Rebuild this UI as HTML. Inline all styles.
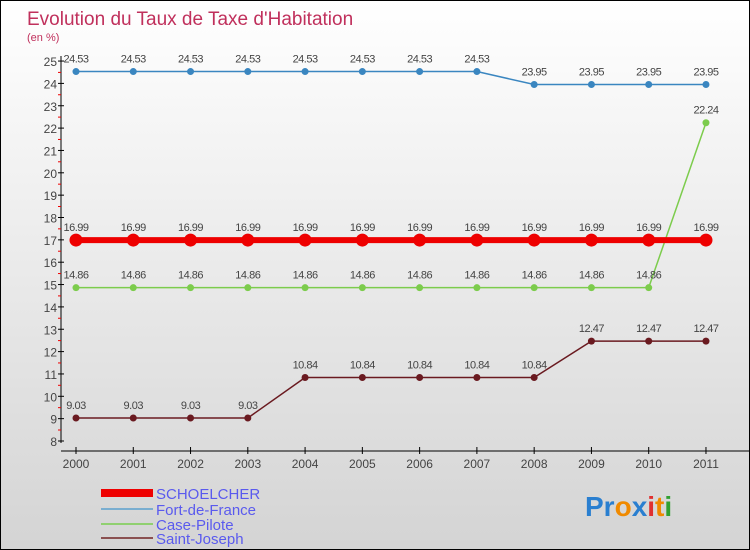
<!DOCTYPE html>
<html><head><meta charset="utf-8"><style>
body{margin:0}
#c{width:748px;height:548px;border:1px solid #000;background:linear-gradient(#fff,#d4d4d4);position:relative;overflow:hidden;font-family:"Liberation Sans",sans-serif}
svg text{font-family:"Liberation Sans",sans-serif}
</style></head><body>
<div id="c">
<svg id="s" width="748" height="548">
<text x="26" y="24" font-size="19" fill="#c0305c">Evolution du Taux de Taxe d'Habitation</text>
<text x="26" y="40" font-size="11" fill="#c0305c">(en %)</text>
<g id="ax"></g><g id="pl"></g>
<g>
<rect x="100" y="488" width="52" height="8" fill="#e00"/>
<text x="155" y="498" font-size="15" fill="#5a5aee">SCHOELCHER</text>
<line x1="100" y1="508" x2="152" y2="508" stroke="#7aaed0" stroke-width="2"/>
<text x="155" y="514" font-size="15" fill="#5a5aee">Fort-de-France</text>
<line x1="100" y1="523" x2="152" y2="523" stroke="#90d070" stroke-width="2"/>
<text x="155" y="529" font-size="15" fill="#5a5aee">Case-Pilote</text>
<line x1="100" y1="537" x2="152" y2="537" stroke="#8a5050" stroke-width="2"/>
<text x="155" y="543" font-size="15" fill="#5a5aee">Saint-Joseph</text>
</g>
<g font-size="28" font-weight="bold">
<text x="584" y="515"><tspan fill="#2a7fd0">Pr</tspan><tspan fill="#f08a00">o</tspan><tspan fill="#2a7fd0">x</tspan><tspan fill="#e03030">i</tspan><tspan fill="#f08a00">t</tspan><tspan fill="#30a030">i</tspan></text>
</g>
</svg></div>
<script>
const years=[2000,2001,2002,2003,2004,2005,2006,2007,2008,2009,2010,2011];
const yTicks=[8,9,10,11,12,13,14,15,16,17,18,19,20,21,22,23,24,25];
const schoelcher=[16.99,16.99,16.99,16.99,16.99,16.99,16.99,16.99,16.99,16.99,16.99,16.99];
const fdf=[24.53,24.53,24.53,24.53,24.53,24.53,24.53,24.53,23.95,23.95,23.95,23.95];
const casePilote=[14.86,14.86,14.86,14.86,14.86,14.86,14.86,14.86,14.86,14.86,14.86,22.24];
const saintJoseph=[9.03,9.03,9.03,9.03,10.84,10.84,10.84,10.84,10.84,12.47,12.47,12.47];
const NS="http://www.w3.org/2000/svg";
const X=i=>75+i*57.27, Y=v=>440-(v-8)*22.35;
function mk(t,a,p){const e=document.createElementNS(NS,t);for(const k in a)e.setAttribute(k,a[k]);p.appendChild(e);return e;}
const ax=document.getElementById('ax'),pl=document.getElementById('pl');
let l=mk('line',{x1:60,y1:55,x2:60,y2:442,stroke:'#000'},ax);


l=mk('line',{x1:60,y1:450,x2:748,y2:450,stroke:'#000'},ax);


yTicks.forEach(v=>{const y=Y(v);
mk('line',{x1:57,y1:y,x2:63,y2:y,stroke:'#000'},ax);
if(v<25)mk('line',{x1:57,y1:y-11,x2:60,y2:y-11,stroke:'#e00'},ax);
const t=mk('text',{x:56,y:y+5,'font-size':12,fill:'#444','text-anchor':'end'},ax);t.textContent=v;

});
years.forEach((yr,i)=>{const x=X(i);
mk('line',{x1:x,y1:446,x2:x,y2:453,stroke:'#000'},ax);
const t=mk('text',{x:x,y:467,'font-size':12,fill:'#444','text-anchor':'middle'},ax);t.textContent=yr;

});
function series(d,c,w,r,name){
const g=mk('g',{},pl);


mk('polyline',{points:d.map((v,i)=>X(i)+','+Y(v)).join(' '),fill:'none',stroke:c,'stroke-width':w},g);
d.forEach((v,i)=>{const p=mk('circle',{cx:X(i),cy:Y(v),r:r,fill:c},g);


const t=mk('text',{x:X(i),y:Y(v)-9,'font-size':11,fill:'#444','text-anchor':'middle','letter-spacing':'-0.5'},g);t.textContent=v;

});}
series(fdf,'#3a86c0',1.5,3.5,'fort-de-france');
series(casePilote,'#7ccc4c',1.5,3.5,'case-pilote');
series(saintJoseph,'#6a1a20',1.5,3.5,'saint-joseph');
series(schoelcher,'#ee0000',6,6.5,'schoelcher');
</script>
</body></html>
